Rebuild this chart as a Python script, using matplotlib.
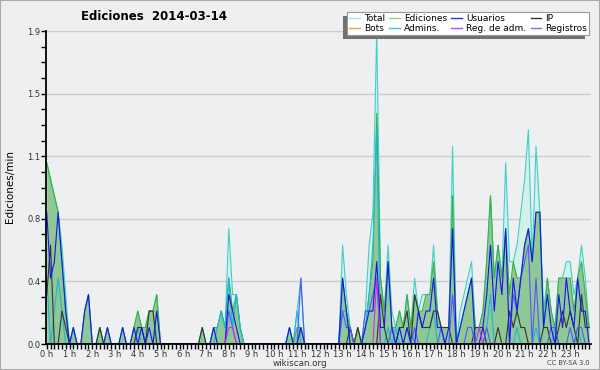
import numpy as np
import matplotlib.pyplot as plt
from matplotlib.lines import Line2D
from matplotlib.patches import Rectangle

# ediciones por bloque de 10 minutos (144 bloques), en décimas de ed/min
total = [11, 10, 9, 8, 6, 3,   0, 1, 0, 0, 2, 3,   0, 0, 1, 0, 1, 0,   0, 0, 1, 0, 0, 1,
         2, 1, 1, 2, 2, 3,     0, 0, 0, 0, 0, 0,   0, 0, 0, 0, 0, 1,   0, 0, 1, 1, 2, 1,
         7, 3, 3, 1, 0, 0,     0, 0, 0, 0, 0, 0,   0, 0, 0, 0, 1, 0,   2, 4, 0, 0, 0, 0,
         0, 0, 0, 0, 0, 0,     6, 3, 1, 0, 1, 0,   2, 6, 8, 19, 4, 2,  6, 2, 1, 2, 1, 3,
         1, 4, 2, 3, 3, 3,     6, 2, 1, 1, 1, 12,  0, 2, 3, 4, 5, 1,   1, 2, 5, 9, 4, 6,
         4, 11, 5, 5, 6, 8,    10, 13, 5, 12, 8, 2, 4, 2, 1, 4, 4, 5,  5, 3, 4, 6, 4, 1]
ediciones = [11, 10, 9, 8, 5, 2,   0, 1, 0, 0, 2, 3,   0, 0, 1, 0, 1, 0,   0, 0, 1, 0, 0, 1,
             2, 1, 1, 2, 2, 3,     0, 0, 0, 0, 0, 0,   0, 0, 0, 0, 0, 1,   0, 0, 1, 1, 2, 1,
             4, 2, 3, 1, 0, 0,     0, 0, 0, 0, 0, 0,   0, 0, 0, 0, 1, 0,   1, 1, 0, 0, 0, 0,
             0, 0, 0, 0, 0, 0,     4, 2, 1, 0, 1, 0,   1, 3, 5, 14, 4, 2,  5, 1, 1, 2, 1, 3,
             1, 3, 2, 2, 3, 3,     5, 2, 1, 1, 1, 9,   0, 1, 2, 3, 4, 1,   1, 2, 5, 9, 4, 6,
             4, 7, 3, 5, 4, 4,     6, 7, 5, 8, 8, 1,   4, 2, 1, 4, 4, 4,   4, 2, 4, 5, 3, 1]
usuarios = [8, 4, 5, 8, 5, 2,   0, 1, 0, 0, 2, 3,   0, 0, 0, 0, 1, 0,   0, 0, 1, 0, 0, 1,
            0, 1, 0, 1, 0, 2,   0, 0, 0, 0, 0, 0,   0, 0, 0, 0, 0, 0,   0, 0, 1, 0, 0, 0,
            3, 2, 1, 0, 0, 0,   0, 0, 0, 0, 0, 0,   0, 0, 0, 0, 1, 0,   0, 1, 0, 0, 0, 0,
            0, 0, 0, 0, 0, 0,   4, 2, 0, 0, 0, 0,   1, 2, 2, 5, 1, 1,   5, 1, 0, 1, 0, 1,
            0, 0, 2, 1, 2, 2,   4, 1, 1, 0, 1, 7,   0, 1, 2, 3, 4, 0,   0, 1, 3, 6, 2, 5,
            3, 7, 0, 4, 2, 4,   6, 7, 5, 8, 8, 1,   3, 1, 0, 3, 1, 4,   2, 1, 4, 2, 2, 0]
ip = [3, 6, 0, 0, 2, 1,   0, 0, 0, 0, 0, 0,   0, 0, 1, 0, 0, 0,   0, 0, 0, 0, 0, 0,
      1, 1, 0, 2, 2, 0,   0, 0, 0, 0, 0, 0,   0, 0, 0, 0, 0, 1,   0, 0, 0, 0, 0, 0,
      0, 0, 0, 0, 0, 0,   0, 0, 0, 0, 0, 0,   0, 0, 0, 0, 0, 0,   0, 0, 0, 0, 0, 0,
      0, 0, 0, 0, 0, 0,   0, 0, 1, 0, 1, 0,   0, 0, 0, 0, 3, 1,   0, 0, 0, 1, 1, 2,
      0, 3, 2, 1, 1, 1,   2, 2, 1, 1, 1, 0,   0, 0, 0, 0, 0, 1,   1, 1, 0, 0, 0, 1,
      0, 0, 2, 1, 2, 1,   1, 0, 0, 0, 0, 1,   1, 0, 0, 1, 2, 1,   2, 1, 0, 3, 1, 1]
bots = [0] * 144
admins = [4, 0, 2, 4, 2, 0,   0, 0, 0, 0, 0, 0,   0, 0, 0, 0, 0, 0,   0, 0, 0, 0, 0, 0,
          1, 0, 0, 0, 0, 0,   0, 0, 0, 0, 0, 0,   0, 0, 0, 0, 0, 0,   0, 0, 0, 1, 2, 1,
          4, 1, 3, 1, 0, 0,   0, 0, 0, 0, 0, 0,   0, 0, 0, 0, 0, 0,   2, 0, 0, 0, 0, 0,
          0, 0, 0, 0, 0, 0,   2, 2, 0, 0, 0, 0,   1, 3, 6, 13, 0, 0,  1, 0, 1, 0, 0, 1,
          1, 0, 0, 0, 0, 1,   2, 0, 0, 0, 0, 0,   0, 0, 0, 0, 0, 0,   0, 0, 1, 3, 0, 0,
          0, 0, 0, 0, 1, 0,   0, 0, 0, 1, 0, 0,   0, 0, 1, 0, 0, 0,   0, 0, 1, 0, 0, 0]
reg_adm = [0] * 48 + [1, 1] + [0] * 37 + [4] + [0] * 26 + [1] + [0] * 29
registros = [0, 0, 0, 0, 0, 0,   0, 0, 0, 0, 0, 0,   0, 0, 0, 0, 0, 0,   0, 0, 0, 0, 0, 0,
             0, 0, 0, 0, 0, 0,   0, 0, 0, 0, 0, 0,   0, 0, 0, 0, 0, 0,   0, 0, 0, 0, 0, 0,
             2, 1, 0, 0, 0, 0,   0, 0, 0, 0, 0, 0,   0, 0, 0, 0, 0, 0,   0, 4, 0, 0, 0, 0,
             0, 0, 0, 0, 0, 0,   2, 1, 1, 0, 0, 0,   2, 2, 3, 4, 0, 0,   0, 1, 0, 0, 0, 0,
             0, 1, 0, 0, 0, 0,   0, 0, 1, 0, 0, 3,   0, 0, 0, 1, 1, 0,   0, 0, 1, 0, 0, 0,
             0, 0, 0, 3, 2, 4,   5, 6, 0, 4, 0, 0,   0, 1, 1, 0, 0, 0,   1, 0, 1, 1, 0, 0]

horas = [f'{h} h' for h in range(24)]
y_ticks = [0, 0.38, 0.76, 1.14, 1.52, 1.9]
y_labels = ['0.0', '0.4', '0.8', '1.1', '1.5', '1.9']

bg = '#eeeff1'
x = np.arange(144)

def por_min(v):
    return np.array(v) / 10

fig = plt.figure(figsize=(6, 3.7), dpi=100, facecolor=bg)
ax = fig.add_axes([46 / 600, 26 / 370, 545 / 600, 313 / 370])
ax.set_facecolor(bg)

lw = 0.8
ax.fill_between(x, por_min(total), color='#d4f0ec', lw=0)
ax.fill_between(x, por_min(ediciones), color='#8fc894', lw=0)
ax.plot(x, por_min(total), color='#3fd0c6', lw=lw, clip_on=False)
ax.plot(x, por_min(ediciones), color='#3cb043', lw=lw)
ax.plot(x, por_min(admins), color='#22b4d8', lw=lw)
ax.plot(x, por_min(ip), color='#333333', lw=lw)
ax.plot(x, por_min(registros), color='#5555ff', lw=lw)
ax.plot(x, por_min(usuarios), color='#1414f0', lw=lw)
ax.plot(x, por_min(reg_adm), color='#d030e0', lw=lw)
ax.plot(x, por_min(bots), color='#f0a030', lw=lw)

ax.set_xlim(-0.2, 143.5)
ax.set_ylim(0, 1.9)
ax.set_yticks(y_ticks)
ax.set_yticklabels(y_labels)
ax.set_yticks(np.arange(0, 1.9, 0.095), minor=True)
ax.set_xticks(np.arange(0, 144, 6))
ax.set_xticklabels(horas)
ax.set_xticks(x, minor=True)
ax.tick_params(which='both', direction='out', length=3.5, width=1, color='black',
               labelsize=6, labelcolor='#333333', pad=0.5)
ax.yaxis.grid(True, which='major', color='#cccccc', lw=1)
ax.set_axisbelow(True)
for s in ['top', 'right']:
    ax.spines[s].set_visible(False)
for s in ['left', 'bottom']:
    ax.spines[s].set_linewidth(1.3)
    ax.spines[s].set_zorder(3)

fig.text(10 / 600, 1 - 187 / 370, 'Ediciones/min', rotation=90, fontsize=7.5,
         ha='center', va='center')
fig.text(154 / 600, 1 - 17 / 370, 'Ediciones  2014-03-14', fontsize=8.5,
         fontweight='bold', ha='center', va='center')
fig.text(0.5, 1 - 363 / 370, 'wikiscan.org', fontsize=6.3, color='#333333',
         ha='center', va='center')
fig.text(590 / 600, 1 - 363 / 370, 'CC BY-SA 3.0', fontsize=4.8, color='#444444',
         ha='right', va='center')

nombres = ['Total', 'Bots', 'Ediciones', 'Admins.', 'Usuarios', 'Reg. de adm.', 'IP', 'Registros']
colores = ['#a8e4e0', '#f0a040', '#90d090', '#40c8d8', '#3030e0', '#d040e0', '#303030', '#7070f0']
handles = [Line2D([], [], color=c, lw=1) for c in colores]
leg = fig.legend(handles, nombres, ncol=4, loc='upper left',
                 bbox_to_anchor=(347 / 600, 1 - 12 / 370), fontsize=6.5,
                 frameon=True, fancybox=False, edgecolor='#999999', facecolor='white',
                 framealpha=1, handlelength=1.2, handletextpad=0.4, columnspacing=0.5,
                 labelspacing=0.05, borderpad=0.25, borderaxespad=0)
leg.get_frame().set_linewidth(0.8)
leg.set_zorder(5)

fig.canvas.draw()
bb = leg.get_window_extent()
sombra = Rectangle(((bb.x0 - 4) / 600, (bb.y0 - 4) / 370), bb.width / 600, bb.height / 370,
                   transform=fig.transFigure, facecolor='#707070', edgecolor='none', zorder=4)
fig.patches.append(sombra)
fig.patches.append(Rectangle((0, 0), 1, 1, transform=fig.transFigure, fill=False,
                             edgecolor='#aaaaaa', lw=1.5, zorder=6))

fig.savefig('out.png', dpi=100, facecolor=bg)
